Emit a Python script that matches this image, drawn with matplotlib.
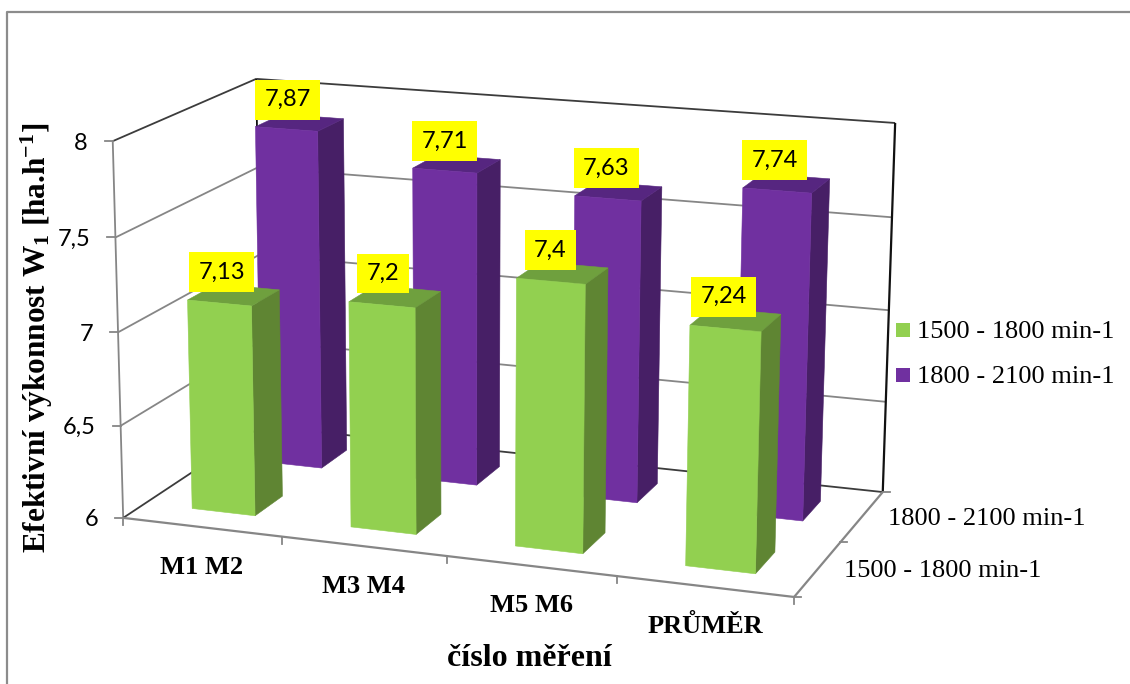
import numpy as np
import matplotlib
matplotlib.use("Agg")
import matplotlib.pyplot as plt
from matplotlib.patches import Polygon, Rectangle

categories = ["M1 M2", "M3 M4", "M5 M6", "PRŮMĚR"]
series_names = ["1500 - 1800 min-1", "1800 - 2100 min-1"]
low_rpm = [7.13, 7.2, 7.4, 7.24]
high_rpm = [7.87, 7.71, 7.63, 7.74]
z_ticks = [6, 6.5, 7, 7.5, 8]
z_labels = ["6", "6,5", "7", "7,5", "8"]

plt.rcParams["mathtext.default"] = "regular"
SERIF = "Liberation Serif"
SANS = "Lato"

# Perspective camera: a 3x4 matrix fitted to where the chart box corners land on the page.
box_model = [(0, 0, 6), (4, 0, 6), (4, 2, 6), (0, 2, 6), (0, 0, 8), (4, 2, 8), (0, 2, 8)]
box_page = [(124, 518), (794, 597), (883, 492), (261, 426), (112, 141), (895, 123), (257, 79)]
rows, rhs = [], []
for (x, d, z), (u, v) in zip(box_model, box_page):
    w = z - 6
    rows.append([x, d, w, 1, 0, 0, 0, 0, -u * x, -u * d, -u * w]); rhs.append(u)
    rows.append([0, 0, 0, 0, x, d, w, 1, -v * x, -v * d, -v * w]); rhs.append(v)
sol = np.linalg.lstsq(np.array(rows, float), np.array(rhs, float), rcond=None)[0]
CAM = np.append(sol, 1.0).reshape(3, 4)


def project(x, d, z):
    h = CAM @ np.array([x, d, z - 6, 1.0])
    return h[0] / h[2], h[1] / h[2]


fig = plt.figure(figsize=(11.3, 6.84), dpi=100, facecolor="white")
ax = fig.add_axes([0, 0, 1, 1])
ax.set_xlim(0, 1130)
ax.set_ylim(684, 0)
ax.axis("off")

GRID = "#868686"
DARK = "#3c3c3c"


def seg(p, q, color=GRID, lw=1.3):
    ax.plot(*zip(project(*p), project(*q)), color=color, lw=lw, solid_capstyle="butt", zorder=2)


# Outer chart frame
ax.plot([7, 7, 1130], [684, 12, 12], color="#8c8c8c", lw=1.6, zorder=1)

# Gridlines on the side and back walls
for z in z_ticks[1:-1]:
    seg((0, 0, z), (0, 2, z))
    seg((0, 2, z), (4, 2, z))
seg((0, 0, 8), (0, 2, 8), DARK)
seg((0, 2, 8), (4, 2, 8), DARK)
seg((0, 0, 6), (0, 0, 8))
seg((0, 2, 6), (0, 2, 8), "#111111")
seg((4, 2, 6), (4, 2, 8), "#111111", 1.6)
seg((0, 0, 6), (0, 2, 6), DARK)
seg((0, 2, 6), (4, 2, 6), DARK)
seg((0, 0, 6), (4, 0, 6), GRID, 1.6)
seg((4, 0, 6), (4, 2, 6), GRID, 1.6)

# Axis ticks and value labels
for z, lab in zip(z_ticks, z_labels):
    px, py = project(0, 0, z)
    ax.plot([px - 8, px], [py, py], color=GRID, lw=1.3, zorder=2)
    ax.text(px - 25, py, lab, ha="right", va="center_baseline", family=SANS, fontsize=17, color="black")
for i in range(len(categories) + 1):
    px, py = project(i, 0, 6)
    ax.plot([px, px], [py, py + 7], color=GRID, lw=1.3, zorder=2)
for d in range(3):
    px, py = project(4, d, 6)
    ax.plot([px, px + 7], [py, py], color=GRID, lw=1.3, zorder=2)

# Bars
BAR_W = 0.4
FACES = {
    0: ("#92D050", "#5F8533", "#6FA03E"),
    1: ("#7030A0", "#471F66", "#562680"),
}


def bar(cat, series, value):
    x0, x1 = cat + 0.5 - BAR_W / 2, cat + 0.5 + BAR_W / 2
    d0, d1 = series + 0.5 - BAR_W / 2, series + 0.5 + BAR_W / 2
    front, side, top = FACES[series]
    quads = [
        ([(x1, d0, 6), (x1, d1, 6), (x1, d1, value), (x1, d0, value)], side),
        ([(x0, d0, value), (x1, d0, value), (x1, d1, value), (x0, d1, value)], top),
        ([(x0, d0, 6), (x1, d0, 6), (x1, d0, value), (x0, d0, value)], front),
    ]
    for corners, color in quads:
        ax.add_patch(Polygon([project(*c) for c in corners], closed=True, facecolor=color,
                             edgecolor=color, lw=0.4, zorder=3))


for series, vals in ((1, high_rpm), (0, low_rpm)):
    for cat in reversed(range(len(categories))):
        bar(cat, series, vals[cat])

# Value labels above each bar
for series, vals in ((1, high_rpm), (0, low_rpm)):
    for cat, val in enumerate(vals):
        px, py = project(cat + 0.5, series + 0.5, val)
        ax.text(px - 12, py - 23, f"{val:g}".replace(".", ","), ha="center", va="center",
                family=SANS, fontsize=17, color="black", zorder=5,
                bbox=dict(boxstyle="square,pad=0.40", facecolor="#FFFF00", edgecolor="none"))

# Category and series axis labels
for i, lab in enumerate(categories):
    px, py = project(i + 0.5, 0, 6)
    ax.text(px, py + 40, lab, ha="center", va="center", family=SERIF, weight="bold", fontsize=19)
for i, lab in enumerate(series_names):
    px, py = project(4, i + 0.5, 6)
    ax.text(px + 26, py + 2, lab, ha="left", va="center", family=SERIF, fontsize=19)

# Axis titles
ax.text(37, 338, "Efektivní výkonnost W$_{1}$ [ha.h$^{-1}$]", rotation=90, ha="center", va="center",
        family=SERIF, weight="bold", fontsize=22.5)
ax.text(529, 658, "číslo měření", ha="center", va="center", family=SERIF, weight="bold", fontsize=23)

# Legend
for y, name, series in ((330, series_names[0], 0), (375, series_names[1], 1)):
    ax.add_patch(Rectangle((896, y - 7), 14, 14, facecolor=FACES[series][0], edgecolor="none"))
    ax.text(917, y + 2, name, ha="left", va="center", family=SERIF, fontsize=19)

fig.savefig("out.png", dpi=100)
